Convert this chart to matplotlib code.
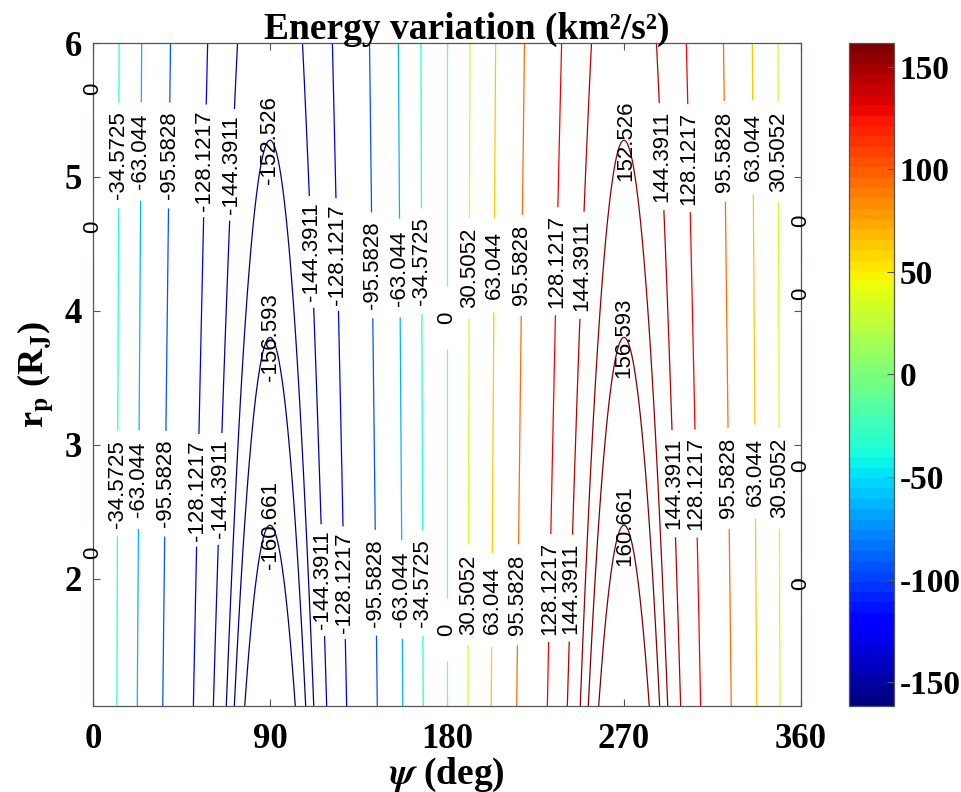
import numpy as np
import matplotlib
matplotlib.use('Agg')
import matplotlib.pyplot as plt
from matplotlib.colors import Normalize
from matplotlib.cm import ScalarMappable

# periapsis radius rows (R_J) and the peak energy change reached on each row (km^2/s^2)
rp_rows = [1.05, 1.25, 1.5, 1.75, 2.0, 2.25, 2.5, 2.75, 3.0, 3.25, 3.5,
           3.75, 4.0, 4.25, 4.5, 4.75, 5.0, 5.25, 5.5, 5.75, 6.0]
peak_dE = [164.79, 164.16, 163.39, 162.62, 161.86, 161.11, 160.36, 159.63,
           158.89, 158.17, 157.45, 156.74, 156.03, 155.33, 154.64, 153.95,
           153.27, 152.59, 151.92, 151.26, 150.60]

# contour levels
levels = [-160.661, -156.593, -152.526, -144.3911, -128.1217, -95.5828,
          -63.044, -34.5725, 0.0, 30.5052, 63.044, 95.5828, 128.1217,
          144.3911, 152.526, 156.593, 160.661]

psi_ticks = [0, 90, 180, 270, 360]
rp_ticks = [2, 3, 4, 5, 6]
cbar_ticks = [-150, -100, -50, 0, 50, 100, 150]

# where the inline labels sit (psi deg, rp)
label_spots = [
    (13.7, 5.16), (24.8, 5.19), (38.6, 5.16), (57.8, 5.12), (71.2, 5.09),
    (109.3, 4.44), (123.0, 4.42), (140.8, 4.34), (155.1, 4.32), (167.3, 4.37),
    (180.0, 3.95), (191.7, 4.32), (204.4, 4.34), (218.6, 4.34), (235.9, 4.37),
    (249.1, 4.34), (287.2, 5.15), (302.0, 5.14), (320.3, 5.19), (334.0, 5.22),
    (347.7, 5.19),
    (13.7, 2.71), (23.9, 2.74), (36.6, 2.71), (55.4, 2.66), (65.6, 2.67),
    (116.9, 1.99), (128.1, 1.97), (143.4, 1.97), (157.1, 1.92), (167.3, 1.97),
    (180.0, 1.62), (190.6, 1.88), (202.8, 1.84), (216.1, 1.88), (233.9, 1.93),
    (243.5, 1.93), (294.9, 2.71), (306.0, 2.71), (322.3, 2.75), (335.0, 2.80),
    (348.3, 2.75),
    (0.0, 5.66), (0.0, 4.63), (0.0, 2.19),
    (360.0, 4.67), (360.0, 4.13), (360.0, 2.84), (360.0, 1.96),
]
# labels sitting on the tips of the closed curves near 90 and 270 deg
tip_spots = [(88.3, 5.31), (89.0, 3.92), (91.5, 2.43),
             (271.5, 5.28), (270.5, 3.92), (270.5, 2.43)]

plt.rcParams['font.family'] = 'Liberation Serif'
plt.rcParams['font.weight'] = 'bold'
plt.rcParams['mathtext.fontset'] = 'stix'
plt.rcParams['axes.unicode_minus'] = False

psi = np.linspace(-2, 362, 1457)
Z = -np.outer(peak_dE, np.sin(np.radians(psi)))

cmap = plt.get_cmap('jet', 64)
norm = Normalize(vmin=-161.5, vmax=161.5)

fig = plt.figure(figsize=(9.62, 7.92), dpi=100)
ax = fig.add_axes([0.0967, 0.1086, 0.7359, 0.8371])

cs = ax.contour(psi, rp_rows, Z, levels=levels, cmap=cmap, norm=norm,
                linewidths=0.9)

fmt = lambda v: f'{v:.10g}'
label_font = dict(family='Liberation Sans', weight='normal', size=16)

texts = ax.clabel(cs, levels, inline=True, inline_spacing=28, fmt=fmt,
                  colors='k', manual=label_spots)
for t in texts:
    t.set_fontproperties(label_font)
    t.set_clip_on(False)
    x, _ = t.get_position()
    t.set_rotation(90 if (x < 90 or 180 < x < 270) else -90)

tips = ax.clabel(cs, levels, inline=False, fmt=fmt, colors='k',
                 manual=tip_spots)
for t in tips:
    t.set_fontproperties(label_font)
    t.set_clip_on(False)
    t.set_rotation(90)

ax.set_xlim(0, 360)
ax.set_ylim(1.05, 6)
ax.set_xticks(psi_ticks)
ax.set_yticks(rp_ticks)
ax.tick_params(direction='in', top=True, right=True, length=5, width=0.8,
               color='#555555', labelsize=25)
ax.tick_params(axis='x', pad=12)
ax.tick_params(axis='y', pad=8)
for s in ax.spines.values():
    s.set_color('#555555')
    s.set_linewidth(0.9)

ax.set_title('Energy variation (km²/s²)', fontsize=27, fontweight='bold',
             pad=3, x=0.528)
ax.set_xlabel(r'$\psi$ (deg)', fontsize=27, fontweight='bold', labelpad=0)
ax.set_ylabel(r'r$_\mathbf{p}$ (R$_\mathbf{J}$)', fontsize=26,
              fontweight='bold', labelpad=6)

cax = fig.add_axes([0.8825, 0.1086, 0.0468, 0.8371])
cb = fig.colorbar(ScalarMappable(norm=norm, cmap=cmap), cax=cax)
cb.set_ticks(cbar_ticks)
cax.tick_params(direction='in', length=5, width=0.8, color='#555555',
                labelsize=24, pad=4)
cb.outline.set_edgecolor('#555555')
cb.outline.set_linewidth(0.9)

fig.savefig('out.png', dpi=100)
